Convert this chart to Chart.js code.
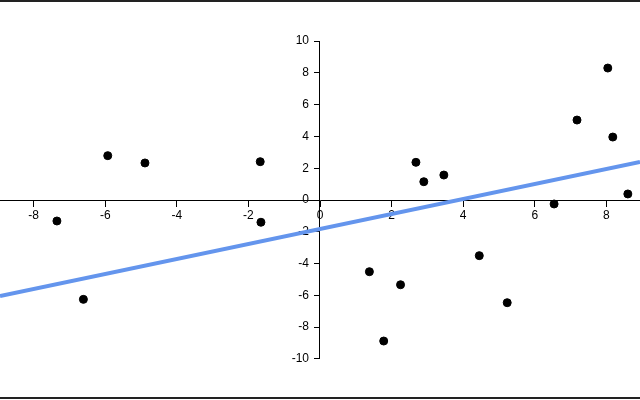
<!DOCTYPE html>
<html>
<head>
<meta charset="utf-8">
<script src="https://cdn.jsdelivr.net/npm/chart.js@4"></script>
<style>
  html, body { margin: 0; padding: 0; background: #fff; }
  #wrap { width: 640px; height: 400px; }
</style>
</head>
<body>
<div id="wrap"><canvas id="scatter" width="640" height="400"></canvas></div>
<script>
// Scatter points
const pointX = [-7.35, -6.61, -5.93, -4.89, -1.67, -1.65, 1.38, 1.78, 2.25, 2.68, 2.90, 3.46, 4.45, 5.23, 6.54, 7.18, 8.04, 8.18, 8.60];
const pointY = [-1.32, -6.25, 2.79, 2.33, 2.41, -1.40, -4.51, -8.87, -5.33, 2.37, 1.15, 1.57, -3.50, -6.46, -0.25, 5.03, 8.30, 3.96, 0.38];

// Fitted line end points (edges of the view)
const lineX = [-8.94, 8.94];
const lineY = [-6.04, 2.39];

// Axis ranges and visible tick values
const xRange = [-8.94, 8.94];
const yRange = [-12.58, 12.58];
const yTickLimit = 10;

const points = pointX.map((x, i) => ({ x: x, y: pointY[i] }));
const fitLine = lineX.map((x, i) => ({ x: x, y: lineY[i] }));

const tickFont = { family: 'Liberation Sans, Arial, sans-serif', size: 12 };

// y domain line only spans the labelled ticks; y labels sit left of the tick marks
const framePlugin = {
    id: 'frame',
    beforeDatasetsDraw(chart) {
        const ctx = chart.ctx;
        const y = chart.scales.y;
        const px = Math.round(chart.scales.x.getPixelForValue(0)) - 0.5;
        ctx.save();
        ctx.strokeStyle = '#000';
        ctx.lineWidth = 1;
        ctx.beginPath();
        ctx.moveTo(px, y.getPixelForValue(yTickLimit));
        ctx.lineTo(px, y.getPixelForValue(-yTickLimit));
        ctx.stroke();

        ctx.fillStyle = '#000';
        ctx.font = '12px ' + tickFont.family;
        ctx.textAlign = 'right';
        ctx.textBaseline = 'middle';
        y.ticks.forEach(t => {
            ctx.fillText(String(t.value), px - 10.5, y.getPixelForValue(t.value));
        });
        ctx.restore();
    },
    afterDraw(chart) {
        const ctx = chart.ctx;
        ctx.save();
        ctx.fillStyle = '#222';
        ctx.fillRect(0, 0, chart.width, 2);
        ctx.fillRect(0, chart.height - 3, chart.width, 2);
        ctx.restore();
    }
};

new Chart(document.getElementById('scatter'), {
    type: 'scatter',
    data: {
        datasets: [
            {
                type: 'line',
                data: fitLine,
                borderColor: '#6495ed',
                borderWidth: 4,
                pointRadius: 0,
                fill: false,
                order: 2
            },
            {
                data: points,
                backgroundColor: '#000',
                borderColor: '#000',
                pointRadius: 4,
                pointHoverRadius: 4,
                order: 1
            }
        ]
    },
    options: {
        responsive: false,
        animation: false,
        devicePixelRatio: 1,
        layout: { padding: 0, autoPadding: false },
        plugins: {
            legend: { display: false },
            tooltip: { enabled: false }
        },
        scales: {
            x: {
                type: 'linear',
                position: { y: 0 },
                min: xRange[0],
                max: xRange[1],
                grid: { drawOnChartArea: false, drawTicks: true, tickLength: 6, color: '#000' },
                border: { display: true, color: '#000', width: 1 },
                ticks: { stepSize: 2, includeBounds: false, color: '#000', font: tickFont, padding: 2, maxRotation: 0 }
            },
            y: {
                type: 'linear',
                position: { x: 0 },
                min: yRange[0],
                max: yRange[1],
                afterBuildTicks(scale) {
                    scale.ticks = scale.ticks.filter(t => Math.abs(t.value) <= yTickLimit);
                },
                grid: { drawOnChartArea: false, drawTicks: true, tickLength: 6, color: '#000' },
                border: { display: false },
                ticks: { display: false, stepSize: 2, includeBounds: false }
            }
        }
    },
    plugins: [framePlugin]
});
</script>
</body>
</html>
